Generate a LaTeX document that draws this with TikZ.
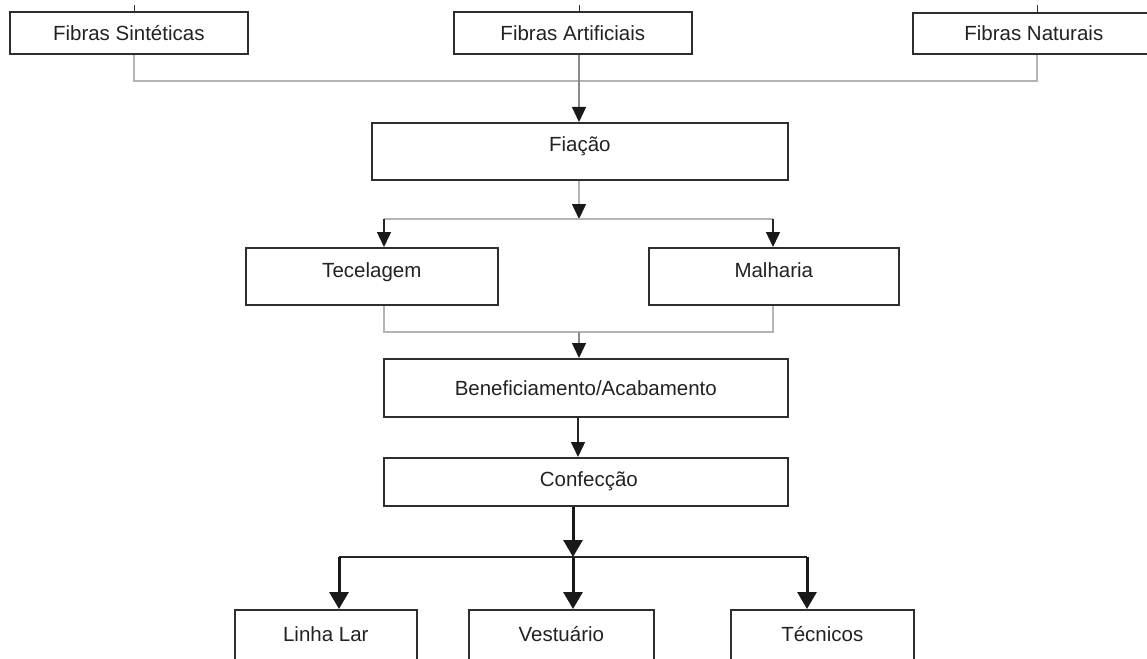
\documentclass[tikz,border=0pt]{standalone}
\usepackage{fontspec}
\setmainfont{Liberation Sans}
\usetikzlibrary{arrows.meta}
\definecolor{boxc}{HTML}{2E2E2E}
\definecolor{txtc}{HTML}{222222}
\definecolor{lgray}{HTML}{B4B4B4}
\definecolor{mgray}{HTML}{8A8A8A}
\tikzset{
  box/.style={draw=boxc, line width=1.6pt, inner sep=0pt, anchor=north west,
    text=txtc, font=\fontsize{20.5}{24}\selectfont, text height=14.5pt, text depth=#1},
  box/.default=0pt,
  grayline/.style={draw=lgray, line width=1.5pt},
  midline/.style={draw=mgray, line width=1.3pt},
  blackline/.style={draw=black!85, line width=1.4pt},
  tickline/.style={draw=boxc, line width=1pt},
  arr/.style={-{Triangle[length=15pt,width=14pt,color=black!90]}},
  hline/.style={draw=black!85, line width=1.7pt},
  thickarr/.style={draw=black!90, line width=3pt, -{Triangle[length=17pt,width=19pt,color=black!90]}}
}
\begin{document}
\begin{tikzpicture}[x=1pt,y=-1pt]
\clip (0,0) rectangle (1147,658);
% top row
\node[box, minimum width=238pt, minimum height=42pt] (sint) at (9,11) {Fibras Sintéticas};
\node[box, minimum width=238pt, minimum height=42pt] (art) at (453,11) {Fibras Artificiais};
\node[box, minimum width=242pt, minimum height=41pt] (nat) at (912,12) {Fibras Naturais};
% middle
\node[box=15pt, minimum width=416pt, minimum height=57pt] (fia) at (371,122) {Fiação};
\node[box=13pt, minimum width=252pt, minimum height=57pt] (tec) at (245,247) {Tecelagem};
\node[box=13pt, minimum width=250pt, minimum height=57pt] (mal) at (648,247) {Malharia};
\node[box, minimum width=404pt, minimum height=58pt] (ben) at (383,358) {Beneficiamento/Acabamento};
\node[box=6pt, minimum width=404pt, minimum height=48pt] (conf) at (383,457) {\hspace*{6pt}Confecção};
% bottom row
\node[box=9pt, minimum width=182pt, minimum height=57pt] (lin) at (234,609) {Linha Lar};
\node[box=9pt, minimum width=185pt, minimum height=57pt] (ves) at (468,609) {Vestuário};
\node[box=9pt, minimum width=183pt, minimum height=57pt] (tcn) at (730,609) {Técnicos};
% ticks above the top boxes
\coordinate (t1) at (134,5);
\coordinate (t2) at (579,5);
\coordinate (t3) at (1037,5);
\draw[tickline] (t1) -- (t1 |- sint.north);
\draw[tickline] (t2) -- (t2 |- art.north);
\draw[tickline] (t3) -- (t3 |- nat.north);
% fibres to spinning
\coordinate (j1) at (579,81);
\draw[grayline] (sint.south -| t1) -- (t1 |- j1) -- (t3 |- j1) -- (nat.south -| t3);
\draw[midline, arr] (art.south -| t2) -- (fia.north -| t2);
% spinning to weaving / knitting
\coordinate (j2) at (579,219);
\coordinate (j2l) at (384,219);
\coordinate (j2r) at (773,219);
\draw[grayline, arr] (fia.south -| j2) -- (j2);
\draw[grayline] (j2l) -- (j2r);
\draw[blackline, arr] (j2l) -- (j2l |- tec.north);
\draw[blackline, arr] (j2r) -- (j2r |- mal.north);
% weaving / knitting to finishing
\coordinate (j3) at (579,332);
\coordinate (j3l) at (384,332);
\coordinate (j3r) at (773,332);
\draw[grayline] (tec.south -| j3l) -- (j3l) -- (j3r) -- (mal.south -| j3r);
\draw[midline, arr] (j3) -- (j3 |- ben.north);
% finishing to making-up
\coordinate (j4) at (578,437);
\draw[blackline, arr] (ben.south -| j4) -- (conf.north -| j4);
% making-up to products
\coordinate (h) at (573,557);
\coordinate (b1) at (339,557);
\coordinate (b3) at (807,557);
\draw[thickarr] (conf.south -| h) -- (h);
\draw[hline] (b1) -- (b3);
\draw[thickarr] (b1) -- (b1 |- lin.north);
\draw[thickarr] (h) -- (h |- ves.north);
\draw[thickarr] (b3) -- (b3 |- tcn.north);
\end{tikzpicture}
\end{document}
